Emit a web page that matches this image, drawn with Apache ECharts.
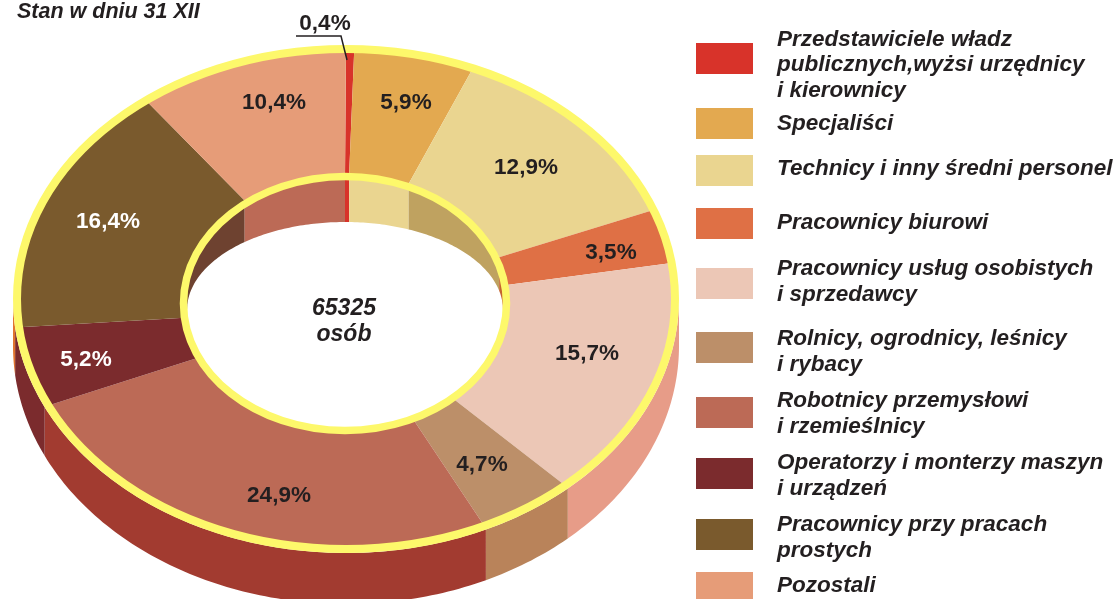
<!DOCTYPE html>
<html>
<head>
<meta charset="utf-8">
<script src="https://cdn.jsdelivr.net/npm/echarts@6/dist/echarts.min.js"></script>
<style>
  html, body { margin: 0; padding: 0; background: #fff; }
  #chart { width: 1117px; height: 599px; }
</style>
</head>
<body>
<div id="chart"></div>
<script>
const categories = [
  'Przedstawiciele władz\npublicznych,wyżsi urzędnicy\ni kierownicy',
  'Specjaliści',
  'Technicy i inny średni personel',
  'Pracownicy biurowi',
  'Pracownicy usług osobistych\ni sprzedawcy',
  'Rolnicy, ogrodnicy, leśnicy\ni rybacy',
  'Robotnicy przemysłowi\ni rzemieślnicy',
  'Operatorzy i monterzy maszyn\ni urządzeń',
  'Pracownicy przy pracach\nprostych',
  'Pozostali'
]
const shares = [0.4, 5.9, 12.9, 3.5, 15.7, 4.7, 24.9, 5.2, 16.4, 10.4]
const totalPersons = '65325'

const topColors = ['#d8332a', '#e3a950', '#ead590', '#df7045', '#ecc7b6', '#bc8f69', '#bc6a56', '#7b2b2d', '#7a5a2d', '#e69c78']
const outerWallColors = [null, null, null, null, '#e79c88', '#b9835a', '#a23b30', '#7b2b2d', '#e0742e', null]
const innerWallColors = ['#d8332a', '#ead590', '#bfa260', '#c46430', null, null, null, null, '#6e4230', '#bc6a56']
const labelColors = ['#231f20', '#231f20', '#231f20', '#231f20', '#231f20', '#231f20', '#231f20', '#fff', '#fff', '#231f20']

// layout only, no data in here
const labelPos = [[325, 24], [406, 103], [526, 168], [611, 253], [587, 354], [482, 465], [279, 496], [86, 360], [108, 222], [274, 103]]
const swatchTop = [43, 108, 155, 208, 268, 332, 397, 458, 519, 572]
const textCenter = [65, 124, 169, 223, 282, 352, 414, 476, 538, 586]
const LINE_H = 25.5

const outer = { cx: 346, cy: 299, rx: 329, ry: 250 }
const outerEdge = { cx: 346, cy: 299, rx: 333, ry: 254 }
const outerFloor = { cx: 346, cy: 346, rx: 333, ry: 258 }
const inner = { cx: 345, cy: 303.5, rx: 161.5, ry: 127 }
const innerFloor = { cx: 345, cy: 310, rx: 158, ry: 88 }
const INNER_WALL_RX = 165
const YELLOW = '#fdf86b'
const FONT = '"Liberation Sans", Arial, sans-serif'

const total = shares.reduce((a, b) => a + b, 0)
const toAngle = (share) => share / total * 360
let acc = 0
const ranges = shares.map((v) => {
  const r = [toAngle(acc), toAngle(acc + v)]
  acc += v
  return r
})

function pt(e, deg) {
  const a = deg * Math.PI / 180
  return [e.cx + e.rx * Math.sin(a), e.cy - e.ry * Math.cos(a)]
}
function arc(e, a0, a1) {
  const n = Math.max(2, Math.ceil(Math.abs(a1 - a0)))
  const out = []
  for (let i = 0; i <= n; i++) out.push(pt(e, a0 + (a1 - a0) * i / n))
  return out
}
function yOn(e, x, sign) {
  const k = Math.max(0, 1 - Math.pow((x - e.cx) / e.rx, 2))
  return e.cy + sign * e.ry * Math.sqrt(k)
}

function renderSlice(i) {
  return function(params, api) {
    const a0 = toAngle(api.value(0))
    const a1 = toAngle(api.value(1))
    const pts = arc(outer, a0, a1).concat(arc(inner, a1, a0))
    return {
      type: 'polygon',
      shape: { points: pts },
      style: { fill: topColors[i] }
    }
  }
}

function renderOuterWall(params, api) {
  const a0 = Math.max(90, api.value(0))
  const a1 = Math.min(270, api.value(1))
  const top = arc(outerEdge, a0, a1)
  const bottom = top.slice().reverse().map((p) => [p[0], yOn(outerFloor, p[0], 1)])
  return {
    type: 'polygon',
    shape: { points: top.concat(bottom) },
    style: { fill: outerWallColors[api.value(2)] }
  }
}

function renderInnerWall(params, api) {
  const a0 = api.value(0)
  const a1 = api.value(1)
  const n = Math.max(2, Math.ceil(a1 - a0))
  const xs = []
  for (let i = 0; i <= n; i++) {
    const x = inner.cx + INNER_WALL_RX * Math.sin((a0 + (a1 - a0) * i / n) * Math.PI / 180)
    xs.push(Math.min(inner.cx + innerFloor.rx, Math.max(inner.cx - innerFloor.rx, x)))
  }
  const top = xs.map((x) => [x, yOn(inner, x, -1)])
  const bottom = xs.slice().reverse().map((x) => [x, yOn(innerFloor, x, -1)])
  return {
    type: 'polygon',
    shape: { points: top.concat(bottom) },
    style: { fill: innerWallColors[api.value(2)] }
  }
}

const outerWallData = []
const innerWallData = []
ranges.forEach((r, i) => {
  if (outerWallColors[i]) outerWallData.push([r[0], r[1], i])
  if (innerWallColors[i]) innerWallData.push([r[0], r[1], i])
})

const series = [{
  type: 'custom',
  name: 'outerWalls',
  coordinateSystem: 'none',
  silent: true,
  data: outerWallData,
  renderItem: renderOuterWall
}]

let cum = 0
categories.forEach((name, i) => {
  series.push({
    type: 'custom',
    name: name,
    coordinateSystem: 'none',
    silent: true,
    itemStyle: { color: topColors[i] },
    data: [[cum, cum + shares[i]]],
    renderItem: renderSlice(i)
  })
  cum += shares[i]
})

series.push({
  type: 'custom',
  name: 'innerWalls',
  coordinateSystem: 'none',
  silent: true,
  data: innerWallData,
  renderItem: renderInnerWall
})

// yellow rims on top of everything
series.push({
  type: 'custom',
  name: 'rims',
  coordinateSystem: 'none',
  silent: true,
  data: [[0]],
  renderItem: function() {
    const rim = (e, w) => ({
      type: 'ellipse',
      shape: { cx: e.cx, cy: e.cy, rx: e.rx, ry: e.ry },
      style: { fill: 'none', stroke: YELLOW, lineWidth: w }
    })
    return { type: 'group', children: [rim(outer, 8), rim(inner, 7.5)] }
  }
})

// percent labels
series.push({
  type: 'custom',
  name: 'labels',
  coordinateSystem: 'none',
  silent: true,
  z: 5,
  data: shares.map((v, i) => [v, i]),
  renderItem: function(params, api) {
    const i = api.value(1)
    return {
      type: 'text',
      style: {
        x: labelPos[i][0],
        y: labelPos[i][1],
        text: api.value(0).toFixed(1).replace('.', ',') + '%',
        align: 'center',
        verticalAlign: 'middle',
        fill: labelColors[i],
        font: 'bold 22.5px ' + FONT
      }
    }
  }
})

const legendFont = {
  fontFamily: FONT,
  fontSize: 22.5,
  fontStyle: 'italic',
  fontWeight: 'bold',
  color: '#231f20',
  lineHeight: LINE_H
}

const legends = categories.map((name, i) => {
  const lines = name.split('\n')
  const swatchCenter = swatchTop[i] + 15.5
  // blank spacer line moves the text off the swatch centre
  const shift = textCenter[i] - swatchCenter
  const spacer = Math.abs(shift) * 2
  const textH = lines.length * LINE_H + spacer
  const boxH = Math.max(31, textH)
  const body = lines.map((l) => '{t|' + l + '}')
  if (shift > 0) body.unshift('{s| }')
  if (shift < 0) body.push('{s| }')
  return {
    data: [name],
    left: 696,
    top: swatchCenter - boxH / 2,
    padding: 0,
    icon: 'rect',
    itemWidth: 57,
    itemHeight: 31,
    selectedMode: false,
    formatter: () => body.join('\n'),
    textStyle: {
      ...legendFont,
      padding: [0, 0, 0, 19],
      rich: {
        t: legendFont,
        s: { fontSize: 1, lineHeight: spacer, height: spacer }
      }
    }
  }
})

const chart = echarts.init(document.getElementById('chart'), null, { renderer: 'canvas' })
chart.setOption({
  animation: false,
  backgroundColor: '#fff',
  title: {
    text: 'Stan w dniu 31 XII',
    left: 17,
    top: 1,
    padding: 0,
    textStyle: { fontFamily: FONT, fontSize: 21.5, fontStyle: 'italic', fontWeight: 'bold', color: '#231f20' }
  },
  legend: legends,
  graphic: [
    {
      type: 'polyline',
      silent: true,
      z: 10,
      shape: { points: [[296, 36], [341, 36], [347, 60]] },
      style: { stroke: '#231f20', lineWidth: 1.5, fill: 'none' }
    },
    {
      type: 'text',
      silent: true,
      z: 10,
      x: 344,
      y: 296,
      style: {
        text: totalPersons + '\nosób',
        align: 'center',
        fill: '#231f20',
        lineHeight: 26,
        font: 'italic bold 23px ' + FONT
      }
    }
  ],
  series: series
})
</script>
</body>
</html>
